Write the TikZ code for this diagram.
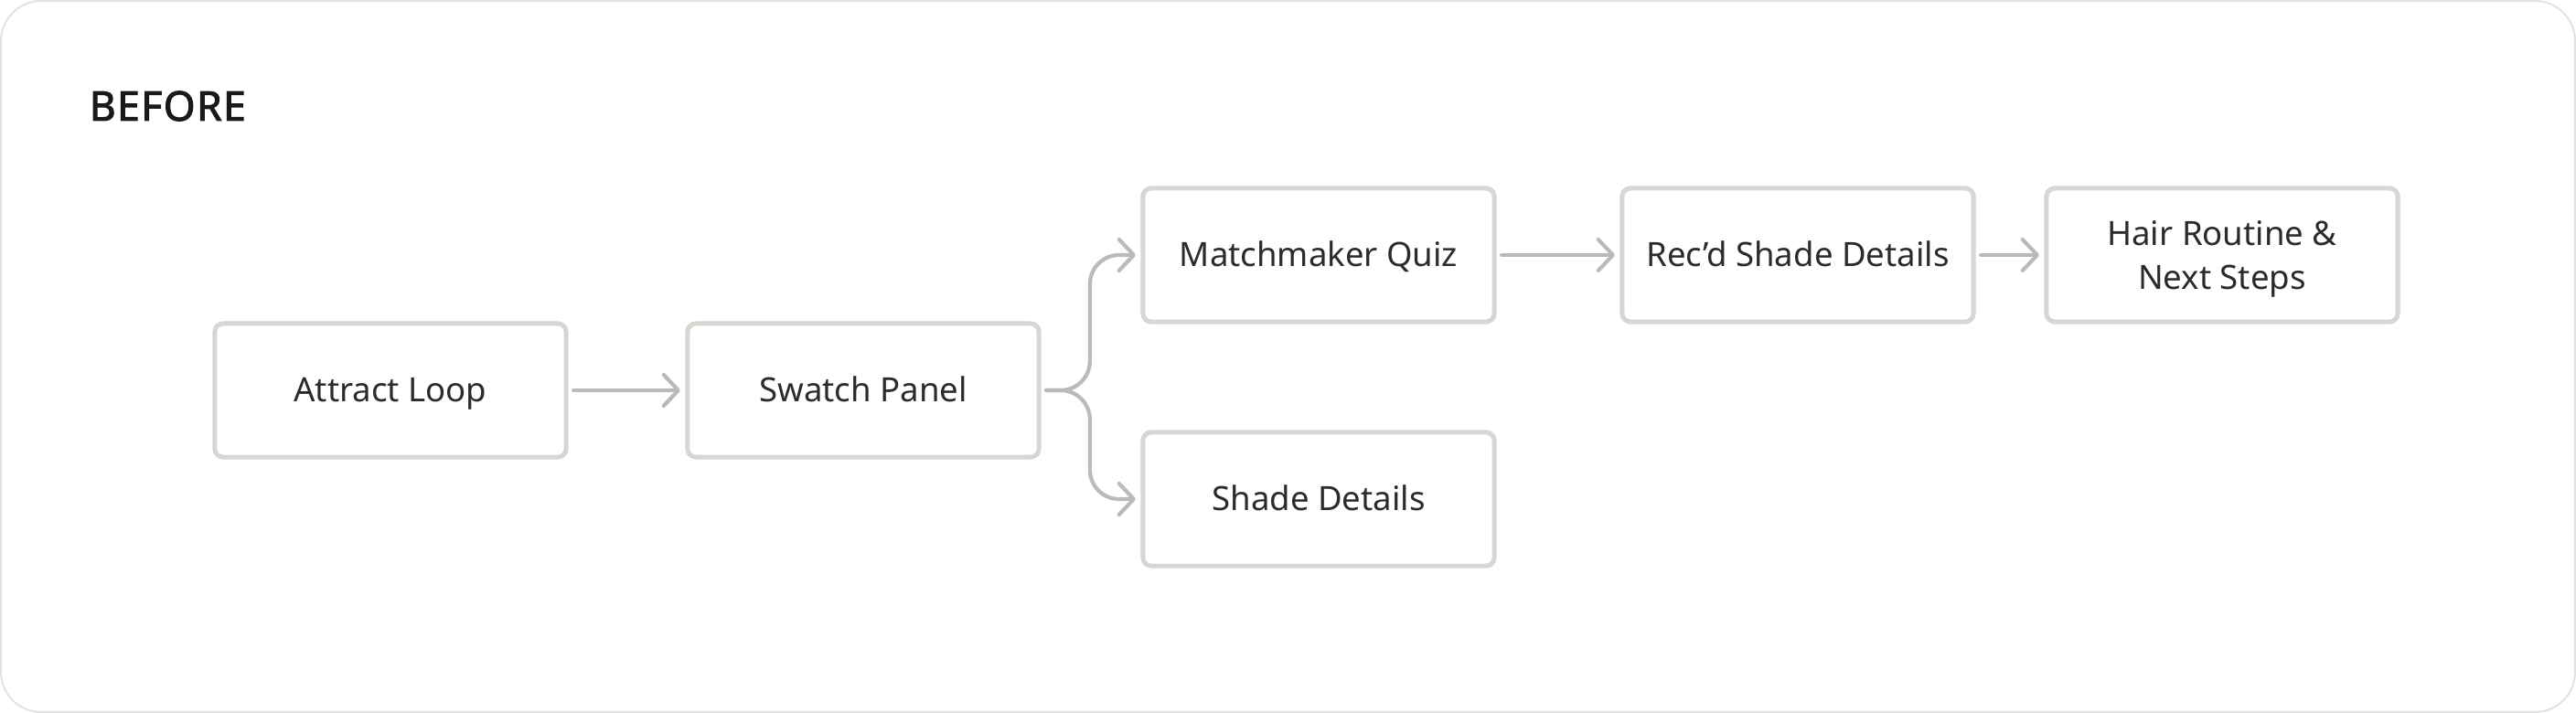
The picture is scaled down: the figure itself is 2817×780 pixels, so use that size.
\documentclass[tikz,border=0pt]{standalone}
\usepackage{fontspec}
\setmainfont{Noto Sans}
\newfontfamily\titlefont[LetterSpace=3, FakeBold=2.2]{Noto Sans}
\usetikzlibrary{arrows.meta, positioning}
\definecolor{boxline}{HTML}{D8D5D2}
\definecolor{flowline}{HTML}{BABABA}
\definecolor{frameline}{HTML}{E2E2E2}
\definecolor{inktext}{HTML}{2B2B2B}
\tikzset{%
	stepbox/.style={
		rectangle,
		draw=boxline,
		line width=0.05cm,
		rounded corners=0.09cm,
		minimum width=3.84cm,
		minimum height=1.46cm,
		outer sep=0.08cm,
		text=inktext,
		font=\fontsize{10.4}{13.4}\selectfont,
		align=center
	},
	oneline/.style={
		text height=0.26cm,
		text depth=0pt
	},
	flow/.style={
		draw=flowline,
		line width=0.042cm,
		line cap=round,
		-{Straight Barb[length=0.16cm, width=0.34cm, round]}
	},
}

\begin{document}
\begin{tikzpicture}[x=0.01cm, y=-0.01cm]
	\useasboundingbox (0,0) rectangle (2817,780);
	\draw[frameline, line width=0.02cm, rounded corners=0.44cm] (1,1) rectangle (2816,779);
	
	\node[anchor=base west, inner sep=0pt, text=black!90,
		font=\fontsize{12.7}{15}\titlefont] (title) at (97,132) {BEFORE};
	
	\node[stepbox, oneline] (attract) at (427,427) {Attract Loop};
	\node[stepbox, oneline] (swatch) at (944,427) {Swatch Panel};
	\node[stepbox, oneline] (quiz) at (1442,279) {Matchmaker Quiz};
	\node[stepbox, oneline] (shade) at (1442,546) {Shade Details};
	\node[stepbox, oneline] (recd) at (1966,279) {Rec’d Shade Details};
	\node[stepbox, text depth=0pt] (routine) at (2430,279) {Hair Routine \&\\Next Steps};
	
	\draw[flow] (attract) -- (swatch);
	\draw[flow, rounded corners=0.32cm] (swatch.east) -| ([xshift=-0.5cm]quiz.west) -- (quiz.west);
	\draw[flow, rounded corners=0.32cm] (swatch.east) -| ([xshift=-0.5cm]shade.west) -- (shade.west);
	\draw[flow] (quiz) -- (recd);
	\draw[flow] (recd) -- (routine);
	
\end{tikzpicture}
\end{document}
